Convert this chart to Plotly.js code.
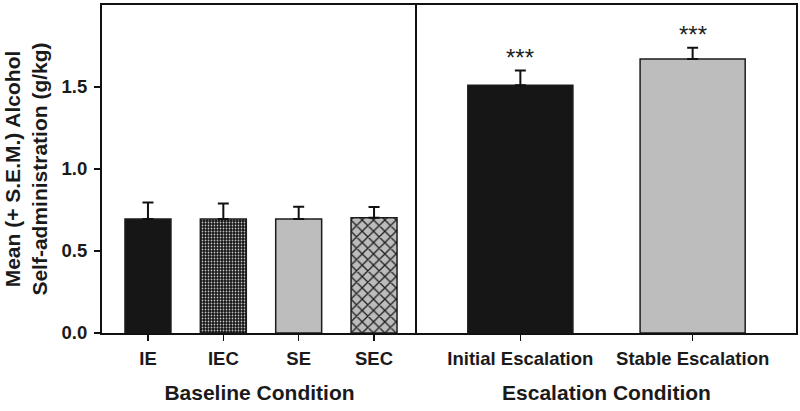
<!DOCTYPE html>
<html>
<head>
<meta charset="utf-8">
<script src="https://cdn.plot.ly/plotly-3.0.1.min.js"></script>
<style>html,body{margin:0;padding:0;background:#fff;}#chart{width:800px;height:411px;}</style>
</head>
<body>
<div id="chart"></div>
<script>
// Data
const baselineCategories = ["IE", "IEC", "SE", "SEC"];
const baselineMeans = [0.695, 0.695, 0.695, 0.703];
const baselineSEM = [0.10, 0.094, 0.075, 0.065];
const escalationCategories = ["Initial Escalation", "Stable Escalation"];
const escalationMeans = [1.51, 1.67];
const escalationSEM = [0.09, 0.07];
const escalationSig = ["***", "***"];
const yTickVals = [0, 0.5, 1.0, 1.5];
const yTickText = ["0.0", "0.5", "1.0", "1.5"];

const FONT = "Liberation Sans, Arial, sans-serif";
const DARK = "#161616";
const GRAY = "#bdbdbd";
const EDGE = "#1c1c1c";

function errBar(arr) {
  return {type: "data", symmetric: false, array: arr, arrayminus: arr.map(() => 0),
          color: "#111", thickness: 2, width: 5.5};
}

const traces = [];
const baseStyles = [
  {color: DARK},
  {color: "#222", pattern: {shape: ".", bgcolor: "#141414", fgcolor: "#c4c4c4", size: 3, solidity: 0.28, fillmode: "replace"}},
  {color: GRAY},
  {color: GRAY, pattern: {shape: "x", bgcolor: "#bcbcbc", fgcolor: "#1e1e1e", size: 8, solidity: 0.3, fillmode: "replace"}}
];
baselineCategories.forEach((c, i) => {
  const m = Object.assign({line: {color: EDGE, width: 1.5}}, baseStyles[i]);
  traces.push({
    type: "bar", x: [c], y: [baselineMeans[i]], xaxis: "x", yaxis: "y",
    width: 0.61, marker: m, error_y: errBar([baselineSEM[i]]),
    showlegend: false, hoverinfo: "skip"
  });
});
const escColors = [DARK, GRAY];
escalationCategories.forEach((c, i) => {
  traces.push({
    type: "bar", x: [c], y: [escalationMeans[i]], xaxis: "x2", yaxis: "y2",
    width: 0.61, marker: {color: escColors[i], line: {color: EDGE, width: 1.5}},
    error_y: errBar([escalationSEM[i]]),
    showlegend: false, hoverinfo: "skip"
  });
});

const annotations = escalationCategories.map((c, i) => ({
  xref: "x2", yref: "y2", x: c, y: escalationMeans[i] + escalationSEM[i],
  text: escalationSig[i], showarrow: false, yanchor: "bottom", yshift: -2,
  font: {family: FONT, size: 24, color: "#222"}
}));

const split = (417 - 102) / 694;
const tickFont = {family: FONT, size: 18.5, color: "#1a1a1a", weight: 700};
const titleFont = {family: FONT, size: 21, color: "#1a1a1a", weight: 700};

const layout = {
  width: 800, height: 411,
  margin: {l: 102, r: 4, t: 5, b: 78},
  paper_bgcolor: "#fff", plot_bgcolor: "#fff",
  bargap: 0,
  showlegend: false,
  annotations: annotations,
  xaxis: {
    domain: [0, split], anchor: "y", type: "category", range: [-0.61, 3.57],
    showline: true, linecolor: "#111", linewidth: 2, mirror: true,
    ticks: "outside", ticklen: 6, tickwidth: 1.5, tickcolor: "#111",
    tickfont: tickFont, showgrid: false, zeroline: false, ticklabelstandoff: 2,
    title: {text: "Baseline Condition", font: titleFont, standoff: 17}
  },
  xaxis2: {
    domain: [split, 1], anchor: "y2", type: "category", range: [-0.6, 1.6],
    showline: true, linecolor: "#111", linewidth: 2, mirror: true,
    ticks: "outside", ticklen: 6, tickwidth: 1.5, tickcolor: "#111",
    tickfont: tickFont, showgrid: false, zeroline: false, ticklabelstandoff: 2,
    title: {text: "Escalation Condition", font: titleFont, standoff: 17}
  },
  yaxis: {
    anchor: "x", range: [0, 2.0], tickvals: yTickVals, ticktext: yTickText,
    showline: true, linecolor: "#111", linewidth: 2,
    ticks: "outside", ticklen: 6, tickwidth: 1.5, tickcolor: "#111",
    tickfont: tickFont, showgrid: false, zeroline: false, ticklabelstandoff: 3,
    title: {text: "Mean (+ S.E.M.) Alcohol<br>Self-administration (g/kg)", font: titleFont, standoff: 8}
  },
  yaxis2: {
    anchor: "x2", matches: "y", range: [0, 2.0],
    showline: true, linecolor: "#111", linewidth: 2, mirror: true,
    ticks: "", showticklabels: false, showgrid: false, zeroline: false
  }
};

Plotly.newPlot("chart", traces, layout, {staticPlot: true, displayModeBar: false});
</script>
</body>
</html>
